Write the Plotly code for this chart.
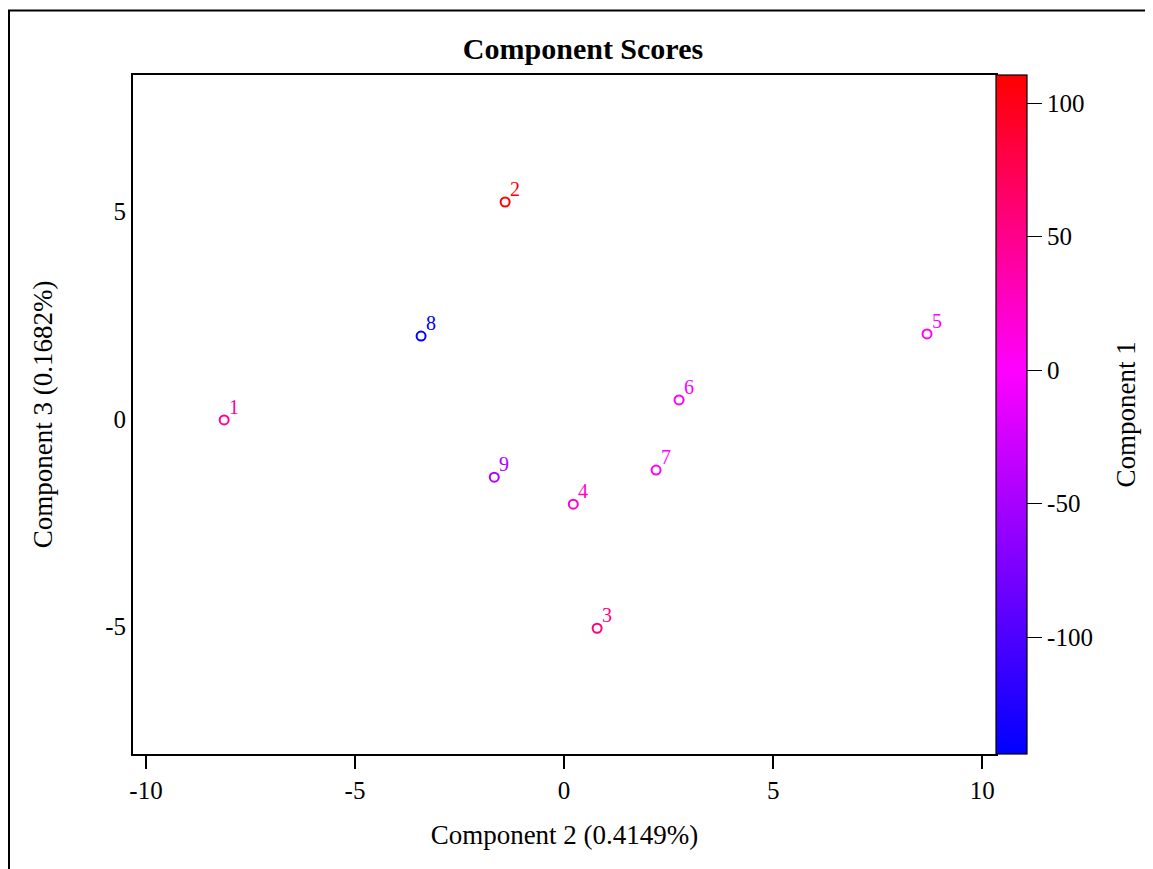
import plotly.graph_objects as go

labels = ["1", "2", "3", "4", "5", "6", "7", "8", "9"]
comp2 = [-8.13, -1.41, 0.79, 0.22, 8.68, 2.75, 2.20, -3.42, -1.67]
comp3 = [-0.02, 5.23, -5.04, -2.05, 2.05, 0.46, -1.23, 2.00, -1.40]
comp1 = [40, 110.5, 55, 22, 5, -3, 4, -143.8, -45]

x_ticks = [-10, -5, 0, 5, 10]
y_ticks = [-5, 0, 5]
c_ticks = [-100, -50, 0, 50, 100]

cmin, cmax = -143.8, 110.5
mid = (0 - cmin) / (cmax - cmin)
cscale = [[0, "rgb(0,0,255)"], [mid, "rgb(255,0,255)"], [1, "rgb(255,0,0)"]]

font = "Liberation Serif, Times New Roman, serif"

W, H = 1145, 861
L, T, PW, PH = 125, 67, 863, 679


def col(v):
    if v >= 0:
        t = v / cmax
        return "rgb(255,0,%d)" % round(255 * (1 - t))
    t = v / cmin
    return "rgb(%d,0,255)" % round(255 * (1 - t))


fig = go.Figure()
fig.add_trace(go.Scatter(
    x=comp2, y=comp3, mode="markers",
    marker=dict(symbol="circle-open", size=9, line=dict(width=2),
                color=comp1, cmin=cmin, cmax=cmax, colorscale=cscale,
                showscale=True,
                colorbar=dict(thickness=31, len=1, lenmode="fraction", y=0, yanchor="bottom",
                              x=1.0, xanchor="left", xpad=0, ypad=0,
                              outlinecolor="black", outlinewidth=1.2,
                              ticks="outside", ticklen=15, tickwidth=1.2, tickcolor="black",
                              tickvals=c_ticks, ticktext=[str(v) for v in c_ticks],
                              tickfont=dict(family=font, size=25, color="black"))),
    showlegend=False, hoverinfo="skip",
))

annotations = []
for lab, xv, yv, cv in zip(labels, comp2, comp3, comp1):
    annotations.append(dict(x=xv, y=yv, xref="x", yref="y", text=lab, showarrow=False,
                            xanchor="left", yanchor="bottom", xshift=3, yshift=0,
                            font=dict(family=font, size=20, color=col(cv))))

# colorbar title
annotations.append(dict(x=(1117 - L) / PW, y=0.5, xref="paper", yref="paper",
                        text="Component 1", textangle=-90, showarrow=False,
                        xanchor="center", yanchor="middle",
                        font=dict(family=font, size=27, color="black")))

fig.update_layout(
    width=W, height=H,
    margin=dict(l=L, r=W - L - PW, t=T, b=H - T - PH),
    paper_bgcolor="white", plot_bgcolor="white",
    font=dict(family=font, color="black"),
    title=dict(text="<b>Component Scores</b>", x=(583 - 8 - L) / PW, xref="paper", xanchor="center",
               y=1 - 40 / H, yanchor="middle",
               font=dict(family=font, size=30, color="black")),
    xaxis=dict(range=[-10.31, 10.33], showgrid=False, zeroline=False,
               showline=True, linecolor="black", linewidth=1.8, mirror=True,
               ticks="outside", ticklen=13, tickwidth=1.5, tickcolor="black",
               tickvals=x_ticks, ticktext=[str(v) for v in x_ticks],
               tickfont=dict(family=font, size=25),
               title=dict(text="Component 2 (0.4149%)", font=dict(family=font, size=27), standoff=22)),
    yaxis=dict(range=[-8.07, 8.29], showgrid=False, zeroline=False,
               showline=True, linecolor="black", linewidth=1.8, mirror=True,
               ticks="",
               tickvals=y_ticks, ticktext=[str(v) for v in y_ticks],
               tickfont=dict(family=font, size=25),
               title=dict(text="Component 3 (0.1682%)", font=dict(family=font, size=27), standoff=45)),
    annotations=annotations,
    shapes=[dict(type="rect", xref="paper", yref="paper",
                 x0=(1 - L) / PW, x1=(1200 - L) / PW,
                 y0=(T + PH - 900) / PH, y1=(T + PH - 2.5) / PH,
                 line=dict(color="black", width=2), fillcolor="rgba(0,0,0,0)", layer="below")],
)

fig.write_html("out.html")
